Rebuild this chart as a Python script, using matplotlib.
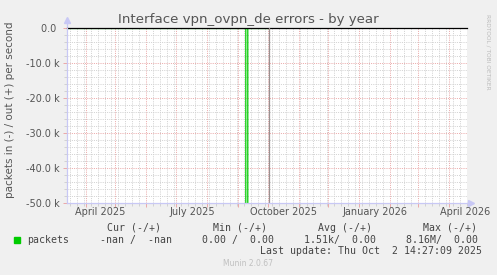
import matplotlib
matplotlib.use("Agg")
import matplotlib.pyplot as plt
import matplotlib.dates as mdates
import pandas as pd

# values
sample_times = ["2025-03-13 00:00", "2025-09-09 00:00", "2025-09-10 00:00",
                "2025-09-11 00:00", "2025-10-02 14:27"]
packets_in = [0, 0, 8.16e6, 0, 0]
packets_out = [0, 0, 0, 0, 0]
last_update = "2025-10-02 14:27"

month_labels = ["April 2025", "July 2025", "October 2025", "January 2026", "April 2026"]
month_label_at = ["2025-04-16", "2025-07-17", "2025-10-17", "2026-01-17", "2026-04-17"]
y_ticks = [0, -10000, -20000, -30000, -40000, -50000]
y_tick_labels = ["0.0 ", "-10.0 k", "-20.0 k", "-30.0 k", "-40.0 k", "-50.0 k"]

legend_heads = ["Cur (-/+)", "Min (-/+)", "Avg (-/+)", "Max (-/+)"]
legend_vals = ["-nan /  -nan", "0.00 /  0.00", "1.51k/  0.00", "8.16M/  0.00"]

W, H = 497, 275
BG = "#f0f0f0"
TXT = "#555555"
MAJ = "#ebaaaa"
MIN = "#d2d2d2"
AXC = "#c8c8f5"

fig = plt.figure(figsize=(W / 100, H / 100), dpi=100, facecolor=BG)
ax = fig.add_axes([66.7 / W, 1 - 202.7 / H, 400 / W, 174.4 / H])
ax.set_facecolor("white")

t0 = pd.Timestamp("2025-03-13")
t1 = pd.Timestamp("2026-04-19")
ax.set_xlim(t0, t1)
ax.set_ylim(-50000, 0)

# grid: weekly minor, monthly major
ax.xaxis.set_major_locator(mdates.MonthLocator())
ax.xaxis.set_minor_locator(mdates.WeekdayLocator(byweekday=mdates.SU))
ax.xaxis.set_major_formatter(plt.NullFormatter())
ax.set_yticks(y_ticks)
ax.set_yticklabels(y_tick_labels)
ax.set_yticks(range(-50000, 1, 2000), minor=True)

ax.grid(which="minor", color=MIN, lw=0.72, ls=(0, (1, 1.2)))
ax.grid(which="major", color=MAJ, lw=0.72, ls=(0, (1, 1.2)))
ax.set_axisbelow(True)
ax.tick_params(which="major", length=3, width=0.72, color=MAJ, pad=2,
               labelsize=7, labelcolor=TXT)
ax.tick_params(which="minor", length=2, width=0.72, color=MIN)
ax.tick_params(axis="x", which="both", labelbottom=False)

for s in ["top", "right"]:
    ax.spines[s].set_visible(False)
for s in ["left", "bottom"]:
    ax.spines[s].set_color(AXC)
    ax.spines[s].set_linewidth(0.9)

# axis arrows
ax.plot([0, 0], [1, 1.03], color=AXC, lw=0.9, transform=ax.transAxes, clip_on=False)
ax.plot([0], [1.045], marker="^", ms=4, color=AXC, transform=ax.transAxes, clip_on=False)
ax.plot([1, 1.005], [0, 0], color=AXC, lw=0.9, transform=ax.transAxes, clip_on=False)
ax.plot([1.01], [0], marker=">", ms=4, color=AXC, transform=ax.transAxes, clip_on=False)

# month labels
for lab, d in zip(month_labels, month_label_at):
    ax.text(pd.Timestamp(d), -0.055, lab, transform=ax.get_xaxis_transform(),
            ha="center", va="center", fontsize=7, color=TXT)

# data: in is drawn negative
times = pd.to_datetime(sample_times)
ax.plot(times, [-v for v in packets_in], color="#00cc00", lw=0.9)
ax.plot(times, packets_out, color="#00cc00", lw=0.9)
ax.axhline(0, color="black", lw=0.9, clip_on=False)
ax.axvline(pd.Timestamp(last_update), color="#9a9090", lw=0.9)

# titles and side texts
fig.text(248 / W, 1 - 19 / H, "Interface vpn_ovpn_de errors - by year",
         ha="center", va="center", fontsize=9.6, color=TXT)
fig.text(10.5 / W, 1 - 109.7 / H, "packets in (-) / out (+) per second",
         rotation=90, ha="center", va="center", fontsize=7.5, color=TXT)
fig.text(488 / W, 1 - 52 / H, "RRDTOOL / TOBI OETIKER", rotation=270,
         ha="center", va="center", fontsize=4.2, color="#bbbbbb")

# legend block
mono = dict(family="DejaVu Sans Mono", fontsize=7.1, color="#444444", va="center")
for head, x in zip(legend_heads, [107, 213, 317.7, 422.7]):
    fig.text(x / W, 1 - 227.7 / H, head, ha="left", **mono)
fig.patches.append(plt.Rectangle((13.7 / W, 1 - 242.7 / H), 6 / W, 5.5 / H,
                                 transform=fig.transFigure, color="#00cc00"))
fig.text(26.7 / W, 1 - 240 / H, "packets", ha="left", **mono)
for val, x in zip(legend_vals, [100, 201.7, 304, 405.7]):
    fig.text(x / W, 1 - 240 / H, val, ha="left", **mono)
fig.text(482.3 / W, 1 - 251 / H, "Last update: Thu Oct  2 14:27:09 2025", ha="right", **mono)
fig.text(248 / W, 1 - 264 / H, "Munin 2.0.67", ha="center", va="center",
         fontsize=5.5, color="#c0c0c0")

fig.savefig("out.png", dpi=100, facecolor=BG)
